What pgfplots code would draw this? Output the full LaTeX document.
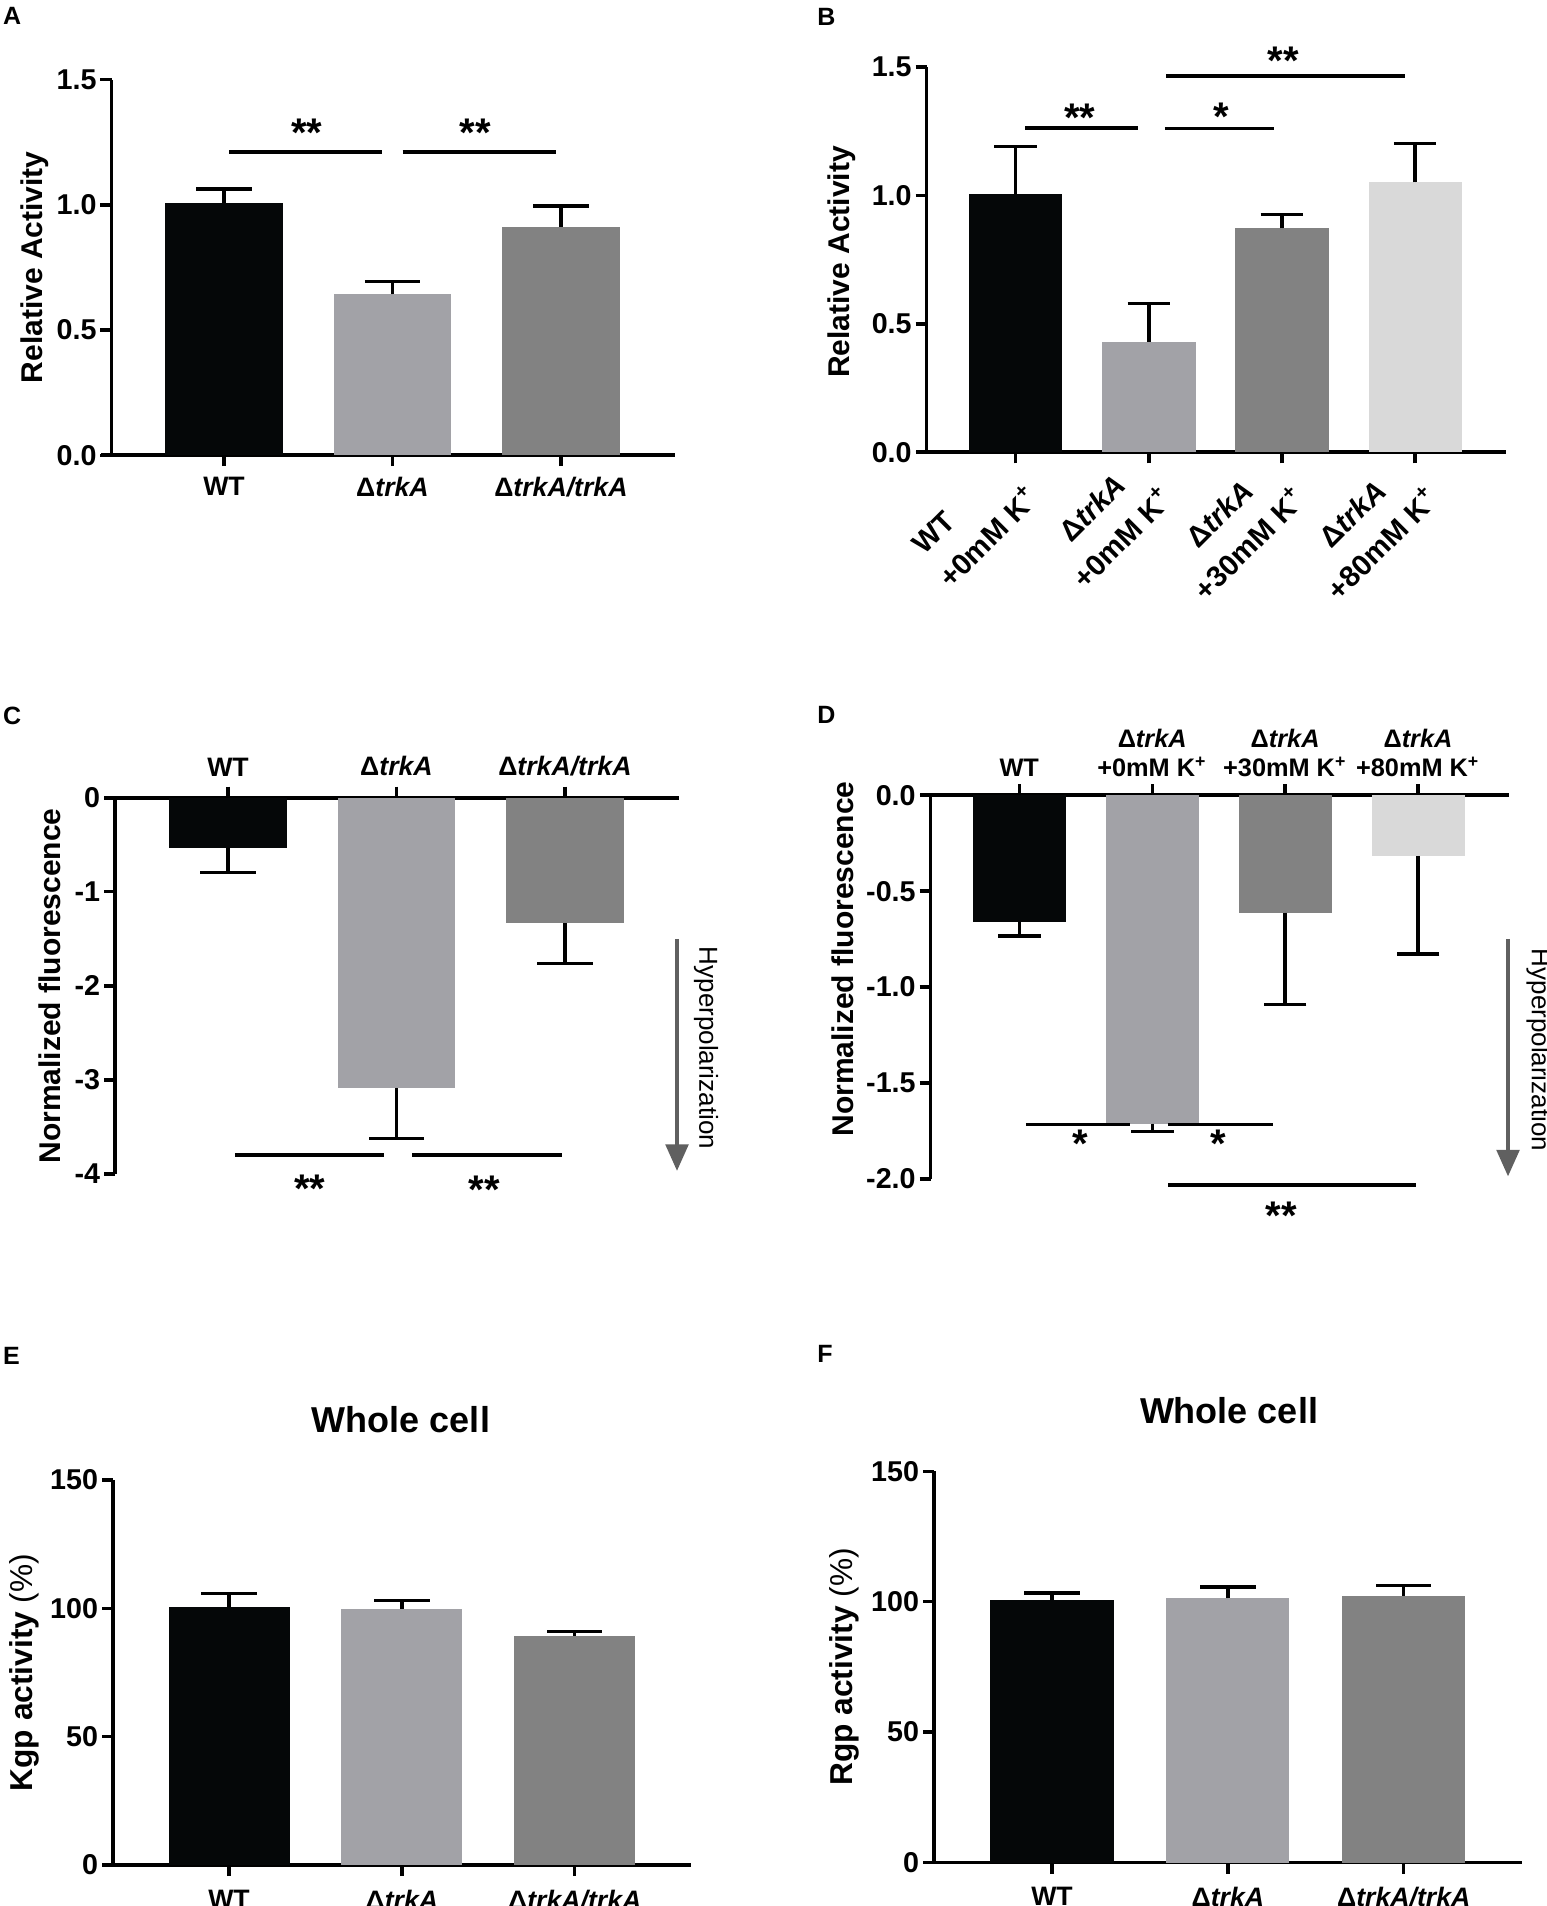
\documentclass[border=0pt]{standalone}
\usepackage{pgfplots}
\pgfplotsset{compat=1.18}
\usepackage{fontspec}
\setmainfont{Liberation Sans}
\usetikzlibrary{arrows.meta}
\definecolor{cA}{HTML}{050708}
\definecolor{cB}{HTML}{A2A2A7}
\definecolor{cC}{HTML}{828282}
\definecolor{cD}{HTML}{D9D9D9}
\definecolor{cArr}{HTML}{606060}
\newcommand{\dtrk}{Δ\textit{trkA}}
\newcommand{\Kp}{K\textsuperscript{+}}
\newcommand{\capsize}{8.3pt}
\pgfplotsset{
  gp/.style={
    scale only axis, clip=false,
    axis line style={line width=1.1pt, black},
    major tick style={line width=1pt, black},
    major tick length=3.3pt,
    tick align=outside,
    /pgf/number format/assume math mode=true,
    ticklabel style={font=\fontsize{8.6}{9}\selectfont\bfseries, inner sep=1pt},
    xticklabel style={font=\fontsize{8}{9.2}\selectfont\bfseries},
    ylabel style={font=\fontsize{9}{10}\selectfont\bfseries, anchor=center},
    axis y line*=left,
  },
  bp/.style 2 args={ybar, bar width=0.7, draw=none, fill=#1,
    error bars/.cd, y dir=#2, y explicit,
    error bar style={line width=1pt, black},
    error mark options={rotate=90, line width=1pt, black, mark size=\capsize}},
}
\tikzset{
  sig/.style={font=\fontsize{12}{12}\selectfont\bfseries, anchor=base, yshift=-6.7pt, inner sep=0pt},
  sl/.style={line width=1.1pt, black},
}
\begin{document}
\begin{tikzpicture}
\useasboundingbox (0pt,0pt) rectangle (463.8pt,-571.8pt);
% panel letters
\begin{scope}[every node/.style={font=\fontsize{7.5}{8}\selectfont\bfseries, anchor=north west, inner sep=0pt}]
\node at (0.75pt,-2.1pt) {A};
\node at (245pt,-2.4pt) {B};
\node at (0.75pt,-211.8pt) {C};
\node at (245pt,-211.8pt) {D};
\node at (0.75pt,-404pt) {E};
\node at (245pt,-403.4pt) {F};
\end{scope}

% ---------------- A
\begin{axis}[gp, at={(33.45pt,-136.56pt)}, anchor=south west,
  width=169.05pt, height=112.65pt,
  xmin=-0.668, xmax=2.677, ymin=0, ymax=1.5,
  axis x line*=bottom,
  xtick={0,1,2}, xticklabels={WT,\dtrk,Δ\textit{trkA/trkA}},
  xticklabel style={yshift=-2pt},
  ytick={0,0.5,1,1.5}, yticklabels={0.0,0.5,1.0,1.5},
  ylabel={Relative Activity},
  ylabel style={at={(axis description cs:-0.136,0.5)}}]
\addplot[bp={cA}{plus}] coordinates {(0,1.007) +- (0,0.056)};
\addplot[bp={cB}{plus}] coordinates {(1,0.642) +- (0,0.051)};
\addplot[bp={cC}{plus}] coordinates {(2,0.912) +- (0,0.083)};
\draw[line width=1.1pt] (rel axis cs:0,0) -- ++(-3.3pt,0pt);
\draw[sl] (axis cs:0.03,1.212) -- (axis cs:0.94,1.212);
\draw[sl] (axis cs:1.06,1.212) -- (axis cs:1.97,1.212);
\node[sig] at (axis cs:0.49,1.324) {**};
\node[sig] at (axis cs:1.49,1.324) {**};
\end{axis}

% ---------------- B
\renewcommand{\capsize}{6.4pt}
\begin{axis}[gp, at={(277.98pt,-135.69pt)}, anchor=south west,
  width=173.91pt, height=115.56pt,
  xmin=-0.67, xmax=3.685, ymin=0, ymax=1.5,
  axis x line*=bottom,
  xtick={0,1,2,3},
  xticklabels={{WT\rule{21pt}{0pt}\\+0mM \Kp},{\dtrk\\+0mM \Kp},{\dtrk\\+30mM \Kp},{\dtrk\\+80mM \Kp}},
  xticklabel style={xshift=-5.8pt, yshift=2.6pt, rotate=45, anchor=north east, align=center, inner sep=0pt, font=\fontsize{8.8}{12.8}\selectfont\bfseries},
  ytick={0,0.5,1,1.5}, yticklabels={0.0,0.5,1.0,1.5},
  ylabel={Relative Activity},
  ylabel style={at={(axis description cs:-0.146,0.494)}}]
\addplot[bp={cA}{plus}] coordinates {(0,1.005) +- (0,0.186)};
\addplot[bp={cB}{plus}] coordinates {(1,0.431) +- (0,0.149)};
\addplot[bp={cC}{plus}] coordinates {(2,0.872) +- (0,0.053)};
\addplot[bp={cD}{plus}] coordinates {(3,1.051) +- (0,0.151)};
\draw[line width=1.1pt] (rel axis cs:0,0) -- ++(-3.3pt,0pt);
\draw[sl] (axis cs:0.07,1.264) -- (axis cs:0.92,1.264);
\draw[sl] (axis cs:1.12,1.261) -- (axis cs:1.94,1.261);
\draw[sl] (axis cs:1.13,1.465) -- (axis cs:2.92,1.465);
\node[sig] at (axis cs:0.48,1.335) {**};
\node[sig] at (axis cs:1.545,1.342) {*};
\node[sig] at (axis cs:2.01,1.559) {**};
\end{axis}

% ---------------- C
\renewcommand{\capsize}{8.3pt}
\begin{axis}[gp, at={(34.5pt,-352.2pt)}, anchor=south west,
  width=169.14pt, height=112.89pt,
  xmin=-0.671, xmax=2.676, ymin=-4, ymax=0,
  axis x line*=top,
  xtick={0,1,2}, xticklabels={WT,\dtrk,Δ\textit{trkA/trkA}},
  xticklabel style={yshift=2pt},
  ytick={-4,-3,-2,-1,0}, yticklabels={-4,-3,-2,-1,0},
  ylabel={Normalized fluorescence},
  ylabel style={at={(axis description cs:-0.116,0.5)}}]
\addplot[bp={cA}{minus}] coordinates {(0,-0.534) +- (0,0.26)};
\addplot[bp={cB}{minus}] coordinates {(1,-3.084) +- (0,0.542)};
\addplot[bp={cC}{minus}] coordinates {(2,-1.336) +- (0,0.427)};
\draw[line width=1.1pt] (rel axis cs:0,1) -- ++(-3.3pt,0pt);
\draw[sl] (axis cs:0.04,-3.80) -- (axis cs:0.924,-3.80);
\draw[sl] (axis cs:1.094,-3.80) -- (axis cs:1.985,-3.80);
\node[sig] at (axis cs:0.485,-4.063) {**};
\node[sig] at (axis cs:1.52,-4.08) {**};
\end{axis}
\draw[cArr, line width=1.35pt, -{Triangle[width=6.7pt,length=8pt]}] (203.1pt,-281.64pt) -- (203.1pt,-351.3pt);
\node[rotate=-90, font=\fontsize{7.8}{8}\selectfont, inner sep=0pt] at (211.8pt,-314.4pt) {Hyperpolarization};

% ---------------- D
\renewcommand{\capsize}{6.4pt}
\begin{axis}[gp, at={(279.18pt,-353.7pt)}, anchor=south west,
  width=173.46pt, height=115.14pt,
  xmin=-0.667, xmax=3.683, ymin=-2, ymax=0,
  axis x line*=top,
  xtick={0,1,2,3},
  xticklabels={WT,{\dtrk\\+0mM \Kp},{\dtrk\\+30mM \Kp},{\dtrk\\+80mM \Kp}},
  xticklabel style={align=center, yshift=1pt, font=\fontsize{7.6}{8.6}\selectfont\bfseries},
  ytick={-2,-1.5,-1,-0.5,0}, yticklabels={-2.0,-1.5,-1.0,-0.5,0.0},
  ylabel={Normalized fluorescence},
  ylabel style={at={(axis description cs:-0.1525,0.573)}}]
\addplot[bp={cA}{minus}] coordinates {(0,-0.659) +- (0,0.074)};
\addplot[bp={cB}{minus}] coordinates {(1,-1.712) +- (0,0.041)};
\addplot[bp={cC}{minus}] coordinates {(2,-0.612) +- (0,0.477)};
\addplot[bp={cD}{minus}] coordinates {(3,-0.316) +- (0,0.511)};
\draw[line width=1.1pt] (rel axis cs:0,1) -- ++(-3.3pt,0pt);
\draw[sl] (axis cs:0.05,-1.716) -- (axis cs:0.83,-1.716);
\draw[sl] (axis cs:1.12,-1.716) -- (axis cs:1.91,-1.716);
\draw[sl] (axis cs:1.12,-2.03) -- (axis cs:2.985,-2.03);
\node[sig] at (axis cs:0.458,-1.77) {*};
\node[sig] at (axis cs:1.50,-1.77) {*};
\node[sig] at (axis cs:1.97,-2.146) {**};
\end{axis}
\draw[cArr, line width=1.35pt, -{Triangle[width=6.7pt,length=8pt]}] (452.4pt,-281.64pt) -- (452.4pt,-352.95pt);
\node[rotate=-90, font=\fontsize{7.8}{8}\selectfont, inner sep=0pt] at (461.55pt,-315pt) {Hyperpolarization};

% ---------------- E
\renewcommand{\capsize}{8.3pt}
\node[font=\fontsize{10.8}{12}\selectfont\bfseries] at (120.3pt,-426pt) {Whole cell};
\begin{axis}[gp, at={(33.9pt,-559.5pt)}, anchor=south west,
  width=173.4pt, height=115.5pt,
  xmin=-0.671, xmax=2.672, ymin=0, ymax=150,
  axis x line*=bottom,
  xtick={0,1,2}, xticklabels={WT,\dtrk,Δ\textit{trkA/trkA}},
  xticklabel style={yshift=-3pt},
  ytick={0,50,100,150},
  ylabel={Kgp activity {\mdseries(\%)}},
  ylabel style={at={(axis description cs:-0.1526,0.5)}, font=\fontsize{9.5}{10}\selectfont\bfseries}]
\addplot[bp={cA}{plus}] coordinates {(0,100.7) +- (0,5.0)};
\addplot[bp={cB}{plus}] coordinates {(1,99.9) +- (0,3.2)};
\addplot[bp={cC}{plus}] coordinates {(2,89.4) +- (0,1.6)};
\draw[line width=1.1pt] (rel axis cs:0,0) -- ++(-3.3pt,0pt);
\end{axis}

% ---------------- F
\node[font=\fontsize{10.8}{12}\selectfont\bfseries] at (368.7pt,-423.3pt) {Whole cell};
\begin{axis}[gp, at={(280.2pt,-558.75pt)}, anchor=south west,
  width=176.4pt, height=117.36pt,
  xmin=-0.671, xmax=2.672, ymin=0, ymax=150,
  axis x line*=bottom,
  xtick={0,1,2}, xticklabels={WT,\dtrk,Δ\textit{trkA/trkA}},
  xticklabel style={yshift=-3pt},
  ytick={0,50,100,150},
  ylabel={Rgp activity {\mdseries(\%)}},
  ylabel style={at={(axis description cs:-0.152,0.5)}, font=\fontsize{9.5}{10}\selectfont\bfseries}]
\addplot[bp={cA}{plus}] coordinates {(0,100.6) +- (0,2.7)};
\addplot[bp={cB}{plus}] coordinates {(1,101.3) +- (0,4.3)};
\addplot[bp={cC}{plus}] coordinates {(2,102.3) +- (0,4.0)};
\draw[line width=1.1pt] (rel axis cs:0,0) -- ++(-3.3pt,0pt);
\end{axis}
\end{tikzpicture}
\end{document}
